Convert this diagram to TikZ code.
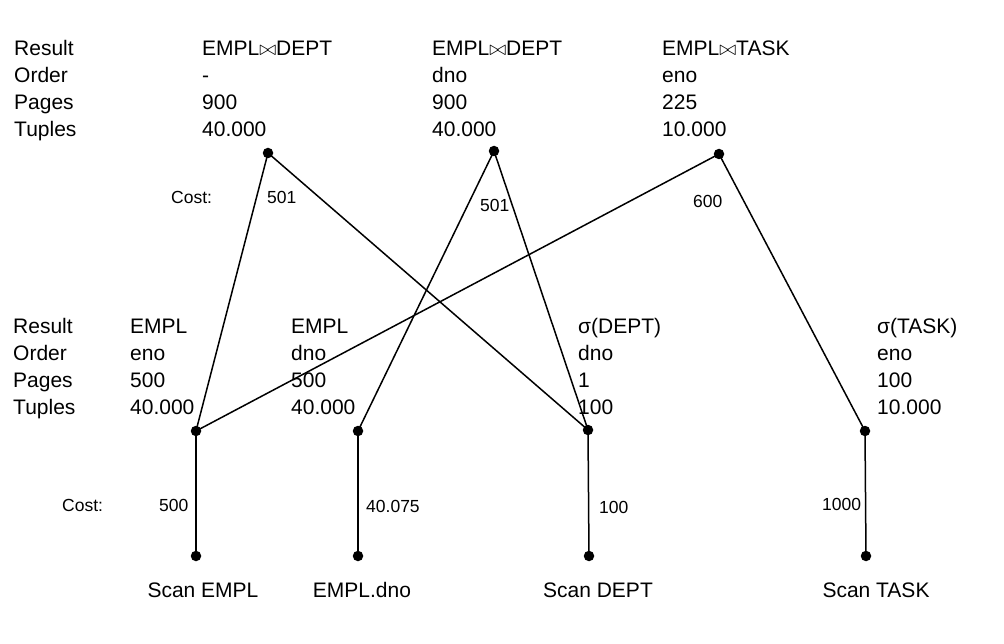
\documentclass[tikz,border=0pt]{standalone}
\usepackage{fontspec}
\setmainfont{Liberation Sans}
\newcommand{\jn}{\ensuremath{\bowtie}}
\begin{document}
\begin{tikzpicture}[x=1pt,y=-1pt,
  dot/.style={circle,fill=black,inner sep=0pt,minimum size=10.5pt},
  edge/.style={line width=1.5pt},
  txt/.style={anchor=base west,inner sep=0pt,font=\fontsize{21}{25}\selectfont},
  sm/.style={anchor=base west,inner sep=0pt,font=\fontsize{17.5}{20}\selectfont},
  bot/.style={anchor=base,inner sep=0pt,font=\fontsize{21}{25}\selectfont}]
\useasboundingbox (0,0) rectangle (1004,644);
% top table
\foreach \t [count=\i] in {Result,Order,Pages,Tuples}
  \node[txt] (tl\i) at (14,{56+27*(\i-1)}) {\t};
\foreach \t [count=\i] in {EMPL\jn DEPT,-,900,40.000}
  \node[txt] (ta\i) at (202,{56+27*(\i-1)}) {\t};
\foreach \t [count=\i] in {EMPL\jn DEPT,dno,900,40.000}
  \node[txt] (tb\i) at (432,{56+27*(\i-1)}) {\t};
\foreach \t [count=\i] in {EMPL\jn TASK,eno,225,10.000}
  \node[txt] (tc\i) at (662,{56+27*(\i-1)}) {\t};
% middle table
\foreach \t [count=\i] in {Result,Order,Pages,Tuples}
  \node[txt] (ml\i) at (13,{334+26.7*(\i-1)}) {\t};
\foreach \t [count=\i] in {EMPL,eno,500,40.000}
  \node[txt] (ma\i) at (130,{334+26.7*(\i-1)}) {\t};
\foreach \t [count=\i] in {EMPL,dno,500,40.000}
  \node[txt] (mb\i) at (291,{334+26.7*(\i-1)}) {\t};
\foreach \t [count=\i] in {σ(DEPT),dno,1,100}
  \node[txt] (mc\i) at (578,{334+26.7*(\i-1)}) {\t};
\foreach \t [count=\i] in {σ(TASK),eno,100,10.000}
  \node[txt] (md\i) at (877,{334+26.7*(\i-1)}) {\t};
% dots
\node[dot] (j1) at (268,153) {};
\node[dot] (j2) at (494,151) {};
\node[dot] (j3) at (719,154) {};
\node[dot] (m1) at (196,431) {};
\node[dot] (m2) at (358,431) {};
\node[dot] (m3) at (588,430) {};
\node[dot] (m4) at (865,431) {};
\node[dot] (b1) at (196,556) {};
\node[dot] (b2) at (358,556) {};
\node[dot] (b3) at (589,556) {};
\node[dot] (b4) at (866,556) {};
% edges
\draw[edge] (j1.center) -- (m1.center);
\draw[edge] (j1.center) -- (m3.center);
\draw[edge] (j2.center) -- (m2.center);
\draw[edge] (j2.center) -- (m3.center);
\draw[edge] (j3.center) -- (m1.center);
\draw[edge] (j3.center) -- (m4.center);
\draw[edge] (m1.center) -- (b1.center);
\draw[edge] (m2.center) -- (b2.center);
\draw[edge] (m3.center) -- (b3.center);
\draw[edge] (m4.center) -- (b4.center);
% cost labels
\node[sm] (c1) at (171,204) {Cost:};
\node[sm] (c2) at (267,204) {501};
\node[sm] (c3) at (480,212) {501};
\node[sm] (c4) at (693,208) {600};
\node[sm] (c5) at (62,511) {Cost:};
\node[sm] (c6) at (159,511) {500};
\node[sm] (c7) at (366,512) {40.075};
\node[sm] (c8) at (599,513) {100};
\node[sm] (c9) at (822,510) {1000};
% bottom labels
\node[bot] (s1) at (203,597) {Scan EMPL};
\node[bot] (s2) at (362,597) {EMPL.dno};
\node[bot] (s3) at (598,597) {Scan DEPT};
\node[bot] (s4) at (876,597) {Scan TASK};
\end{tikzpicture}
\end{document}
